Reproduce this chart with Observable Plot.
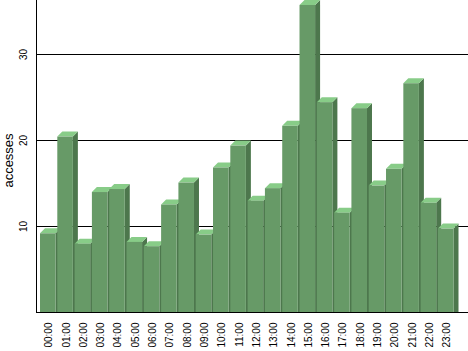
<!DOCTYPE html>
<html>
<head>
<meta charset="utf-8">
<script src="https://cdn.jsdelivr.net/npm/d3@7"></script>
<script src="https://cdn.jsdelivr.net/npm/@observablehq/plot@0.6"></script>
<style>
  html, body { margin: 0; padding: 0; background: #fff; }
  #chart svg { display: block; }
</style>
</head>
<body>
<div id="chart"></div>
<script>
const hours = ["00:00","01:00","02:00","03:00","04:00","05:00","06:00","07:00","08:00","09:00","10:00","11:00",
               "12:00","13:00","14:00","15:00","16:00","17:00","18:00","19:00","20:00","21:00","22:00","23:00"];
const accesses = [9.15, 20.4, 7.95, 13.95, 14.3, 8.15, 7.65, 12.5, 15.05, 9.0, 16.8, 19.35,
                  12.95, 14.4, 21.65, 35.7, 24.4, 11.55, 23.7, 14.7, 16.65, 26.6, 12.7, 9.7];
const yTicks = [10, 20, 30];
const yLabel = "accesses";

const data = hours.map((h, i) => ({hour: h, value: accesses[i]}));

const FRONT = "#679a67", TOP = "#88cc88", SIDE = "#4d774d";
const DEPTH = 5;
const FONT = "Liberation Sans, Arial, sans-serif";

function bars3d(index, scales) {
  const ns = "http://www.w3.org/2000/svg";
  const g = document.createElementNS(ns, "g");
  try {
    const sx = scales.x, sy = scales.y;
    const bw = typeof sx.bandwidth === "function" ? sx.bandwidth() : sx.bandwidth;
    const base = sy(0);
    const sides = document.createElementNS(ns, "g");
    const tops = document.createElementNS(ns, "g");
    sides.setAttribute("fill", SIDE);
    tops.setAttribute("fill", TOP);
    data.forEach(d => {
      const x0 = sx(d.hour), x1 = x0 + bw, yt = sy(d.value);
      const s = document.createElementNS(ns, "polygon");
      s.setAttribute("points", `${x1},${yt} ${x1 + DEPTH},${yt - DEPTH} ${x1 + DEPTH},${base} ${x1},${base}`);
      sides.appendChild(s);
      const t = document.createElementNS(ns, "polygon");
      t.setAttribute("points", `${x0},${yt} ${x0 + DEPTH},${yt - DEPTH} ${x1 + DEPTH},${yt - DEPTH} ${x1},${yt}`);
      tops.appendChild(t);
    });
    g.appendChild(sides);
    g.appendChild(tops);
  } catch (e) {}
  return g;
}

const chart = Plot.plot({
  width: 468,
  height: 351,
  marginTop: 0,
  marginBottom: 39,
  marginLeft: 36,
  marginRight: 0,
  style: {fontFamily: FONT, fontSize: "10px", background: "#fff", color: "#000"},
  x: {domain: hours, axis: null, paddingInner: 0.1, paddingOuter: 0, align: 0, round: false, insetLeft: 4, insetRight: 14.5},
  y: {domain: [0, 36.28], line: true, tickSize: 0, ticks: yTicks, tickFormat: () => "", label: null},
  marks: [
    Plot.ruleY(yTicks, {stroke: "#000", strokeWidth: 1}),
    Plot.ruleY([0], {stroke: "#000", strokeWidth: 1}),
    bars3d,
    Plot.barY(data, {x: "hour", y: "value", fill: FRONT}),
    Plot.text(hours, {x: d => d, text: d => d, frameAnchor: "bottom", rotate: -90, textAnchor: "end",
                      dy: 10, dx: 4, fontSize: 10, fontFamily: FONT, fill: "#000"}),
    Plot.text(yTicks, {y: d => d, text: d => String(d), frameAnchor: "left", rotate: -90, textAnchor: "middle",
                       dx: -13, fontSize: 10, fontFamily: FONT, fill: "#000"}),
    Plot.text([yLabel], {text: d => d, frameAnchor: "left", rotate: -90, textAnchor: "middle",
                         dx: -28, dy: 4, fontSize: 13, fontFamily: FONT, fill: "#000"})
  ]
});
document.getElementById("chart").appendChild(chart);
</script>
</body>
</html>
